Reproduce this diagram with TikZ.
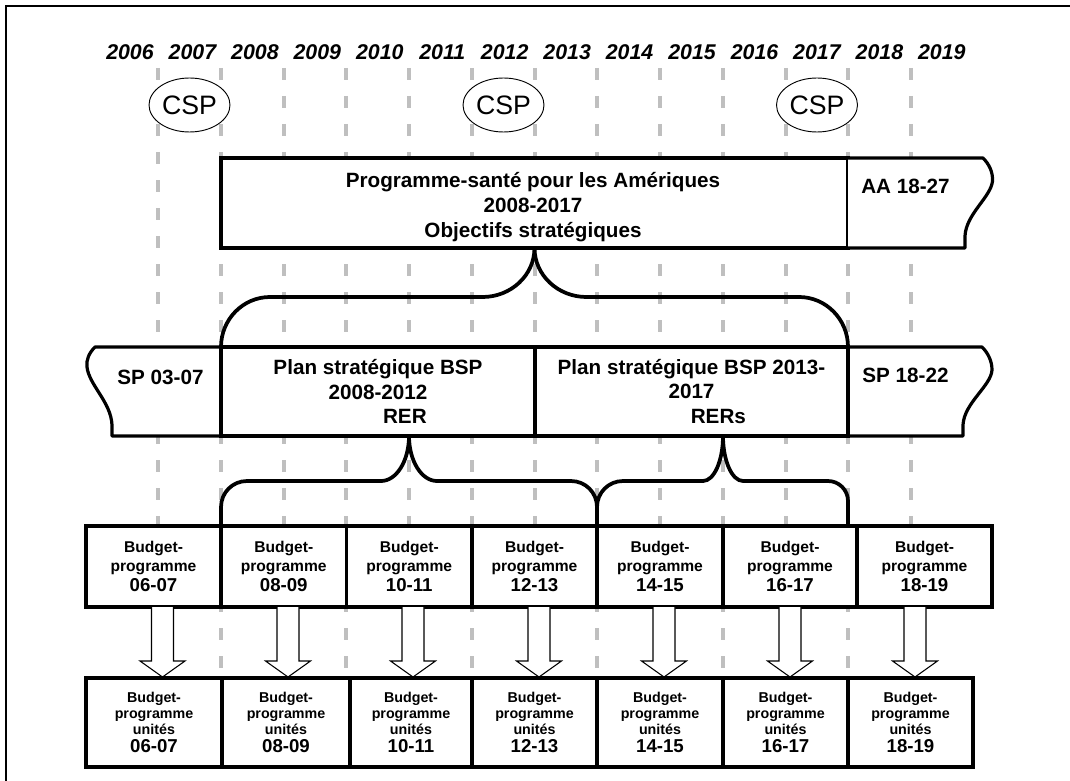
\documentclass[tikz,border=0pt]{standalone}
\usepackage{fontspec}
\setmainfont{Liberation Sans}
\usetikzlibrary{shapes.geometric,calc}

\begin{document}
\begin{tikzpicture}[x=0.75pt,y=-0.75pt,
  yearline/.style={draw=black!25,line width=3pt,dash pattern=on 9pt off 12pt},
  year/.style={font=\bfseries\itshape\fontsize{16}{18}\selectfont},
  box/.style={draw,fill=white,line width=2.4pt,rectangle,inner sep=0pt,outer sep=0pt,align=center,font=\bfseries\fontsize{15.5}{18.5}\selectfont},
  boxtext/.style={align=center,font=\bfseries\fontsize{15.5}{18.5}\selectfont},
  tape/.style={draw,fill=white,line width=2.4pt,line join=round},
  brace/.style={draw,line width=2.8pt},
  csp/.style={draw,fill=white,ellipse,line width=0.7pt,minimum width=60.75pt,minimum height=40.5pt,inner sep=0pt,font=\fontsize{20}{21}\selectfont},
  bp/.style={box,minimum height=60.75pt,font=\bfseries\fontsize{11.7}{14}\selectfont},
  bpu/.style={box,minimum height=66.75pt,font=\bfseries\fontsize{10.7}{12}\selectfont},
  blockarrow/.style={draw,fill=white,line width=0.8pt}]
\useasboundingbox (0,0) rectangle (1070,781);
\draw[line width=1.2pt] (6,781) -- (6,6) -- (1070,6);

% years and grid
\foreach \yr [count=\i from 0] in {2006,...,2019}
  \node[year] (y\yr) at ({130+62.45*\i},52) {\yr};
\foreach \i in {0,...,12}
  \draw[yearline] ({158+62.75*\i},68) -- ({158+62.75*\i},700);

\node[csp] (csp1) at (189.5,105) {CSP};
\node[csp] (csp2) at (503.5,105) {CSP};
\node[csp] (csp3) at (817,105) {CSP};

% top level
\node[box,minimum width=470.25pt,minimum height=67.5pt] (pas) at (534.5,203) {};
\node[boxtext] (pastext) at (533,207)
  {Programme-santé pour les Amériques\\2008-2017\\Objectifs stratégiques};
\draw[tape] (848,158) -- (983,158) .. controls (989,164) and (993,172) .. (992.5,181)
  .. controls (991,197) and (966,214) .. (965,236) -- (965,248) -- (848,248);
\node[boxtext] (aa) at (905.5,186) {AA 18-27};

% strategic plans
\draw[tape] (221,347) -- (95,347) .. controls (89,353) and (86,360) .. (87,367)
  .. controls (89,385) and (111,402) .. (112,425) -- (112,436) -- (221,436);
\node[boxtext] (sp1) at (160.5,377) {SP 03-07};
\draw[tape] (848,347) -- (982,347) .. controls (988,353) and (992,361) .. (992,370)
  .. controls (991,386) and (964,403) .. (963,425) -- (963,436) -- (848,436);
\node[boxtext] (sp2) at (905.5,375) {SP 18-22};
\node[box,minimum width=235.5pt,minimum height=66.75pt] (plan1) at (378,391.5)
  {Plan stratégique BSP\\2008-2012\\\hspace*{2.6em}RER};
\node[box,minimum width=234.75pt,minimum height=66.75pt] (plan2) at (691.5,391.5)
  {Plan stratégique BSP 2013-\\2017\\\hspace*{2.6em}RERs};

\draw[brace] (plan1.north west) .. controls +(0,-27.6) and +(-27,0) .. ++(49,-50)
  -- ($(pas.south)+(-52,49)$) .. controls +(28.7,0) and +(0,27) .. (pas.south);
\draw[brace] (pas.south) .. controls +(0,27) and +(-28.7,0) .. ++(52,49)
  -- ($(plan2.north east)+(-49,-50)$) .. controls +(27,0) and +(0,-27.6) .. (plan2.north east);

% biennial programmes
\foreach \xa/\xb/\lbl [count=\i] in {86/221/06-07,221/346.5/08-09,346.5/472/10-11,472/597/12-13,597/723/14-15,723/857/16-17,857/992/18-19}
  \node[bp,minimum width={(\xb-\xa)*0.75pt}] (bp\i) at ({(\xa+\xb)/2},566.5)
    {Budget-\\programme\\[1pt]{\fontsize{14}{14}\selectfont \lbl}};

\coordinate (tip1) at (409,436);
\coordinate (tip2) at (723,436);
\coordinate (end2) at (848,526);
\draw[brace] (bp2.north west) -- ++(0,-19) .. controls +(0,-14.4) and +(-14.4,0) .. ++(26,-26)
  -- ($(tip1)+(-28,45)$) .. controls +(15.5,0) and +(0,24.8) .. (tip1);
\draw[brace] (tip1) .. controls +(0,24.8) and +(-15.5,0) .. ++(28,45)
  -- ($(bp5.north west)+(-26,-45)$) .. controls +(14.4,0) and +(0,-14.4) .. ++(26,26) -- (bp5.north west);
\draw[brace] (bp5.north west) -- ++(0,-19) .. controls +(0,-14.4) and +(-14.4,0) .. ++(26,-26)
  -- ($(tip2)+(-20,45)$) .. controls +(11,0) and +(0,24.8) .. (tip2);
\draw[brace] (tip2) .. controls +(0,24.8) and +(-11,0) .. ++(20,45)
  -- ($(end2)+(-20,-45)$) .. controls +(11,0) and +(0,-11) .. ++(20,20) -- (end2);

% arrows down to the units
\foreach \x in {162.5,288,413,539,664,790,915}
  \draw[blockarrow] ({\x-11},607) -- ({\x-11},661) -- ({\x-22.5},661) -- (\x,677)
    -- ({\x+22.5},661) -- ({\x+11},661) -- ({\x+11},607);

\foreach \xa/\xb/\lbl [count=\i] in {86/222/06-07,222/350/08-09,350/472/10-11,472/597/12-13,597/723/14-15,723/848/16-17,848/973/18-19}
  \node[bpu,minimum width={(\xb-\xa)*0.75pt}] (bpu\i) at ({(\xa+\xb)/2},722.5)
    {Budget-\\programme\\unités\\[1.5pt]{\fontsize{14}{14}\selectfont \lbl}};
\end{tikzpicture}
\end{document}
